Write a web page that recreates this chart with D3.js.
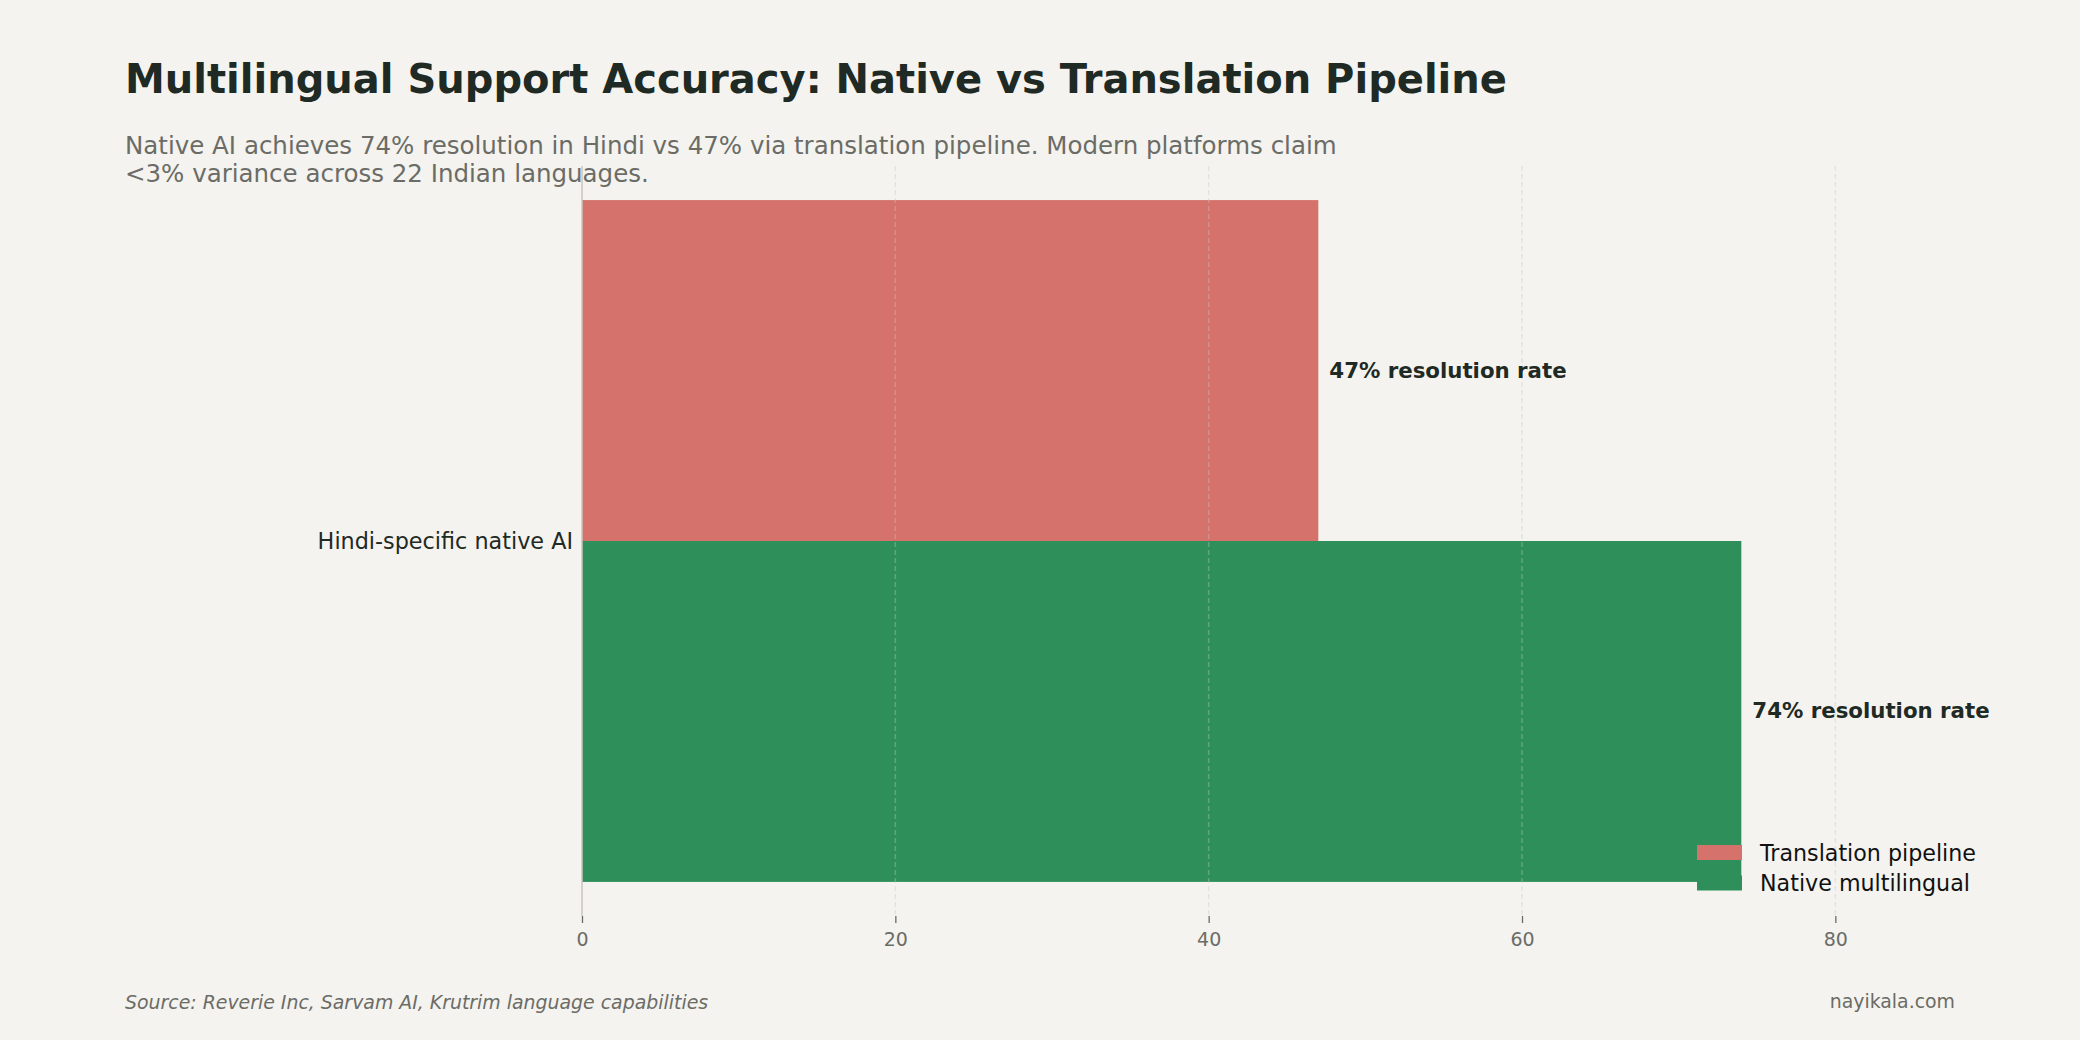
<!DOCTYPE html>
<html>
<head>
<meta charset="utf-8">
<script src="https://cdn.jsdelivr.net/npm/d3@7"></script>
<style>
  html, body { margin: 0; padding: 0; background: #f4f3ef; }
  svg { display: block; font-family: "DejaVu Sans", sans-serif; }
</style>
</head>
<body>
<svg id="chart" width="2080" height="1040"></svg>
<script>
// chart data
const categories = ['Hindi-specific native AI'];
const seriesNames = ['Translation pipeline', 'Native multilingual'];
const translationValues = [47];
const nativeValues = [74];
const valueLabels = ['47% resolution rate', '74% resolution rate'];
const xTicks = [0, 20, 40, 60, 80];

const colors = { 'Translation pipeline': '#d5726c', 'Native multilingual': '#2e8f5b' };

const width = 2080;
const height = 1040;
const margin = { top: 166, right: 88, bottom: 124, left: 582 };

const svg = d3.select('#chart');

svg.append('rect').attr('width', width).attr('height', height).attr('fill', '#f4f3ef');

// title + subtitle
svg.append('text')
  .attr('x', 125).attr('y', 93)
  .attr('font-size', 40).attr('font-weight', 'bold')
  .attr('fill', '#1f2a24')
  .text('Multilingual Support Accuracy: Native vs Translation Pipeline');

const sub = svg.append('text')
  .attr('x', 125).attr('y', 154)
  .attr('font-size', 24.5).attr('fill', '#6b6c66');
sub.append('tspan').attr('x', 125)
  .text('Native AI achieves 74% resolution in Hindi vs 47% via translation pipeline. Modern platforms claim');
sub.append('tspan').attr('x', 125).attr('dy', 27.8)
  .text('<3% variance across 22 Indian languages.');

const x = d3.scaleLinear().domain([0, 90]).range([margin.left, width - margin.right]);
// bars sit at -0.2 / +0.2 around the category, height 0.4
const y = d3.scaleLinear().domain([-0.44, 0.44]).range([height - margin.bottom, margin.top]);
const barH = 0.4;

const rows = [];
categories.forEach((c, i) => {
  rows.push({ cat: c, series: seriesNames[0], value: translationValues[i], lo: 0, label: valueLabels[0] });
  rows.push({ cat: c, series: seriesNames[1], value: nativeValues[i], lo: -barH, label: valueLabels[1] });
});

svg.selectAll('.bar').data(rows).enter().append('rect')
  .attr('class', 'bar')
  .attr('x', x(0))
  .attr('y', d => y(d.lo + barH))
  .attr('width', d => x(d.value) - x(0))
  .attr('height', d => y(d.lo) - y(d.lo + barH))
  .attr('fill', d => colors[d.series]);

// dashed grid, drawn faintly over the bars
svg.append('g').selectAll('line').data(xTicks.filter(t => t > 0)).enter().append('line')
  .attr('x1', d => x(d)).attr('x2', d => x(d))
  .attr('y1', margin.top).attr('y2', height - margin.bottom)
  .attr('stroke', '#c8c8c8').attr('stroke-opacity', 0.35)
  .attr('stroke-width', 1.5).attr('stroke-dasharray', '5,3');

// value labels
svg.selectAll('.vlabel').data(rows).enter().append('text')
  .attr('x', d => x(d.value) + 11)
  .attr('y', d => y(d.lo + barH / 2))
  .attr('dy', '0.33em')
  .attr('font-size', 21.3).attr('font-weight', 'bold')
  .attr('fill', '#1f2a24')
  .text(d => d.label);

// x axis: ticks only, no spine
const xAxis = svg.append('g')
  .attr('transform', `translate(0,${height - margin.bottom})`)
  .call(d3.axisBottom(x).tickValues(xTicks).tickSize(7).tickPadding(10));
xAxis.select('.domain').remove();
xAxis.selectAll('.tick line').attr('stroke', '#6b6c66').attr('stroke-width', 1.3);
xAxis.selectAll('.tick text').attr('fill', '#6b6c66').attr('font-size', 19)
  .attr('font-family', '"DejaVu Sans", sans-serif');

// y axis: light spine, no ticks
const yAxis = svg.append('g')
  .attr('transform', `translate(${margin.left},0)`)
  .call(d3.axisLeft(d3.scalePoint().domain(categories).range([y(0), y(0)])).tickSize(0).tickPadding(9));
yAxis.select('.domain').remove();
svg.append('line')
  .attr('x1', margin.left).attr('x2', margin.left)
  .attr('y1', margin.top).attr('y2', height - margin.bottom)
  .attr('stroke', '#cbc6bc').attr('stroke-width', 1.5);
yAxis.selectAll('.tick text').attr('fill', '#1f2a24').attr('font-size', 22.3)
  .attr('font-family', '"DejaVu Sans", sans-serif');

// legend
const legend = svg.append('g').attr('transform', 'translate(1697,845)');
seriesNames.forEach((s, i) => {
  const g = legend.append('g').attr('transform', `translate(0,${i * 30.5})`);
  g.append('rect').attr('width', 45).attr('height', 15).attr('fill', colors[s]);
  g.append('text').attr('x', 63).attr('y', 15.5).attr('font-size', 22.2)
    .attr('fill', '#111').text(s);
});

// footer
svg.append('text')
  .attr('x', 125).attr('y', 1009)
  .attr('font-size', 18.9).attr('font-style', 'italic')
  .attr('fill', '#6b6c66')
  .text('Source: Reverie Inc, Sarvam AI, Krutrim language capabilities');
svg.append('text')
  .attr('x', 1955).attr('y', 1008)
  .attr('text-anchor', 'end')
  .attr('font-size', 18.9).attr('fill', '#6b6c66')
  .text('nayikala.com');
</script>
</body>
</html>
